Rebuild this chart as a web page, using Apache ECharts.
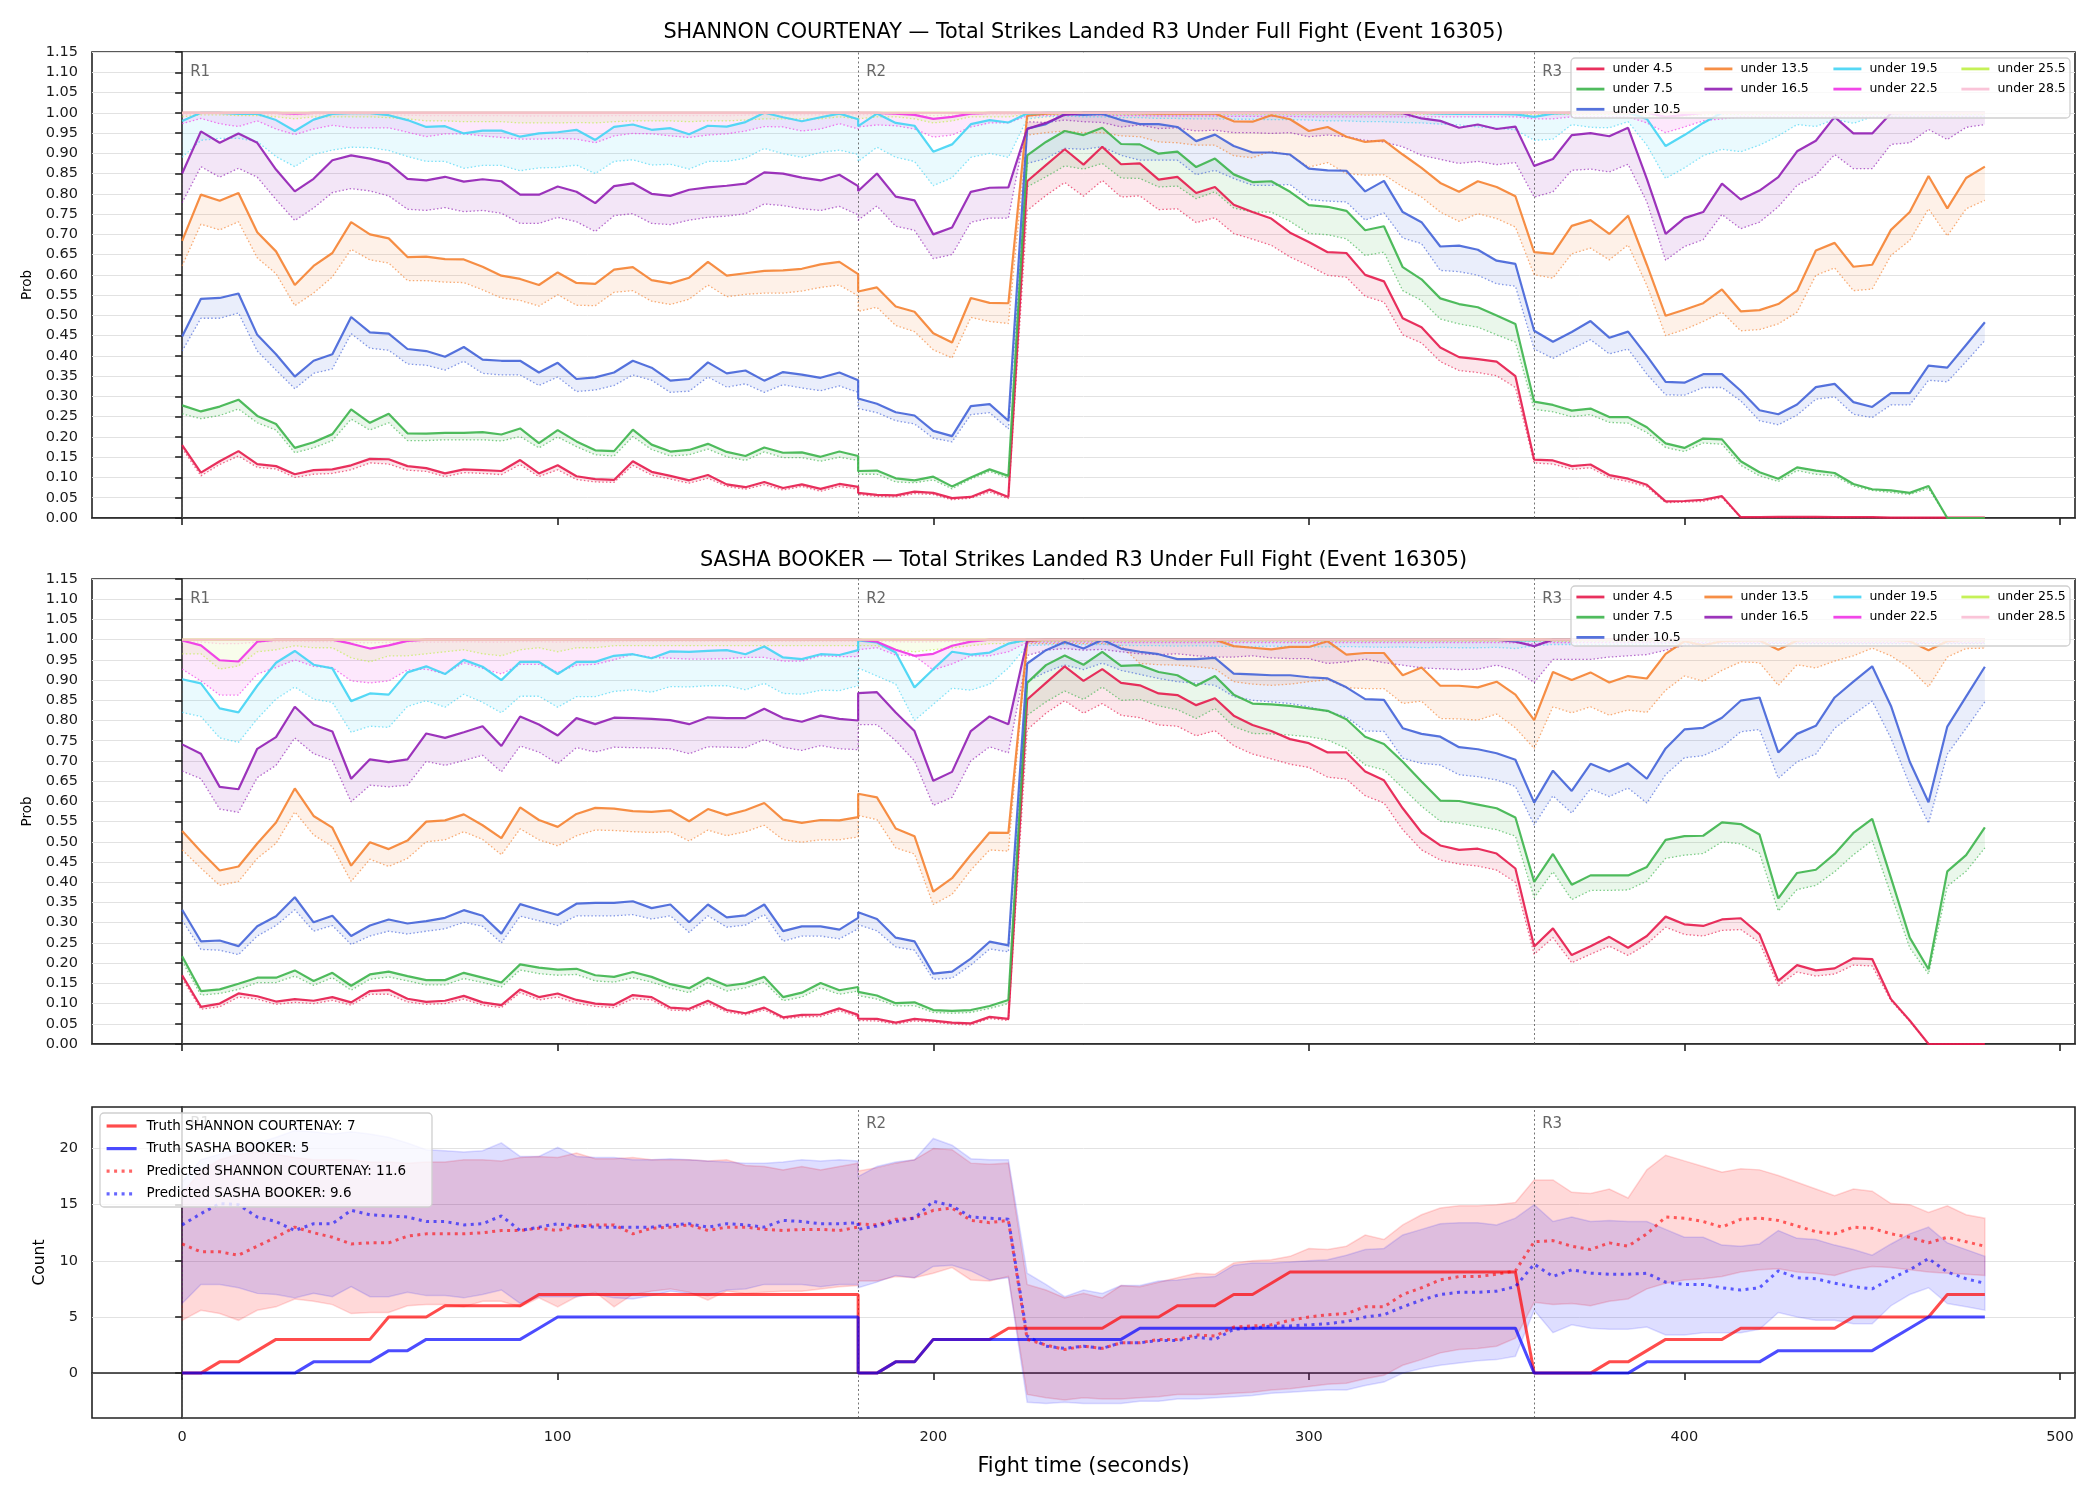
<!DOCTYPE html>
<html lang="en">
<head>
<meta charset="UTF-8">
<title>Total Strikes Landed R3 Under Full Fight</title>
<style>
  * { margin: 0; padding: 0; }
  body { background: #fff; }
</style>
</head>
<body>
<div id="main" style="width:2100px;height:1500px;"></div>
<script src="https://cdn.jsdelivr.net/npm/echarts@6/dist/echarts.min.js"></script>
<script>
// fight time (s): round 1, round 2, round 3 samples
var t = [0,5,10,15,20,25,30,35,40,45,50,55,60,65,70,75,80,85,90,95,100,105,110,115,120,125,130,135,140,145,150,155,160,165,170,175,180,
  180,185,190,195,200,205,210,215,220,225,230,235,240,245,250,255,260,265,270,275,280,285,290,295,300,305,310,315,320,325,330,335,340,345,350,355,
  360,365,370,375,380,385,390,395,400,405,410,415,420,425,430,435,440,445,450,455,460,465,470,475,480];

var thresholds = ['under 4.5','under 7.5','under 10.5','under 13.5','under 16.5','under 19.5','under 22.5','under 25.5','under 28.5'];
var colors = ['#e6194b','#3cb44b','#4363d8','#f58231','#911eb4','#42d4f4','#f032e6','#bfef45','#fabed4'];
var xTicks = [0,100,200,300,400,500];
var countTicks = [0,5,10,15,20];
var rounds = ['R1','R2','R3'];
var roundStarts = [0,180,360];

// ---- SHANNON COURTENAY (solid = prob, dotted = lower) ----
var s1_45 = [0.18,0.112,0.14,0.165,0.133,0.128,0.108,0.118,0.12,0.13,0.146,0.145,0.128,0.123,0.11,0.12,0.118,0.116,0.143,0.11,0.13,0.103,0.096,0.094,0.14,0.114,0.104,0.093,0.106,0.083,0.076,0.089,0.074,0.083,0.072,0.084,0.077,
  0.062,0.057,0.056,0.065,0.062,0.049,0.052,0.07,0.052,0.831,0.871,0.91,0.872,0.916,0.873,0.875,0.835,0.842,0.802,0.817,0.773,0.755,0.739,0.704,0.681,0.656,0.654,0.6,0.584,0.493,0.471,0.421,0.397,0.392,0.386,0.35,
  0.144,0.142,0.128,0.132,0.106,0.097,0.082,0.041,0.042,0.045,0.054,0.002,0.002,0.003,0.003,0.003,0.002,0.002,0.002,0.001,0.001,0.001,0.001,0.001,0.001];
var s1_45d = [0.172,0.104,0.132,0.153,0.125,0.121,0.1,0.108,0.11,0.119,0.136,0.133,0.118,0.115,0.102,0.112,0.11,0.107,0.132,0.102,0.119,0.095,0.089,0.088,0.13,0.106,0.096,0.086,0.098,0.078,0.071,0.082,0.069,0.078,0.066,0.078,0.071,
  0.058,0.053,0.052,0.06,0.058,0.045,0.049,0.064,0.048,0.759,0.796,0.828,0.794,0.833,0.792,0.795,0.761,0.763,0.729,0.741,0.702,0.688,0.673,0.644,0.623,0.599,0.594,0.547,0.533,0.452,0.432,0.386,0.364,0.359,0.351,0.322,
  0.136,0.133,0.12,0.124,0.099,0.09,0.077,0.038,0.039,0.041,0.05,0.001,0.001,0.001,0.001,0.001,0.001,0.001,0.001,0,0,0,0,0,0];
var s1_75 = [0.278,0.263,0.275,0.292,0.252,0.232,0.173,0.187,0.207,0.268,0.235,0.257,0.209,0.208,0.21,0.21,0.212,0.206,0.221,0.185,0.217,0.189,0.167,0.165,0.218,0.181,0.164,0.168,0.183,0.163,0.153,0.174,0.161,0.162,0.151,0.164,0.153,
  0.116,0.117,0.098,0.093,0.102,0.078,0.1,0.12,0.104,0.895,0.928,0.955,0.945,0.963,0.923,0.922,0.899,0.904,0.866,0.887,0.848,0.829,0.831,0.805,0.772,0.768,0.758,0.71,0.72,0.619,0.589,0.542,0.528,0.52,0.5,0.479,
  0.287,0.279,0.265,0.27,0.249,0.249,0.224,0.184,0.173,0.196,0.194,0.14,0.113,0.097,0.125,0.117,0.111,0.084,0.071,0.068,0.062,0.079,0,0,0];
var s1_75d = [0.257,0.245,0.253,0.269,0.235,0.217,0.161,0.173,0.191,0.244,0.217,0.235,0.191,0.191,0.193,0.193,0.193,0.19,0.201,0.173,0.2,0.176,0.156,0.153,0.201,0.169,0.153,0.156,0.17,0.151,0.142,0.163,0.149,0.149,0.14,0.15,0.142,
  0.108,0.108,0.089,0.087,0.094,0.072,0.096,0.115,0.098,0.817,0.842,0.869,0.861,0.875,0.839,0.838,0.817,0.819,0.788,0.805,0.765,0.755,0.755,0.732,0.702,0.699,0.689,0.648,0.656,0.561,0.537,0.491,0.479,0.471,0.452,0.434,
  0.268,0.262,0.25,0.255,0.236,0.234,0.211,0.174,0.164,0.185,0.182,0.13,0.104,0.09,0.117,0.108,0.104,0.079,0.068,0.063,0.058,0.073,0,0,0];
var s1_105 = [0.448,0.541,0.543,0.554,0.452,0.404,0.349,0.388,0.404,0.496,0.458,0.455,0.417,0.412,0.398,0.422,0.391,0.388,0.388,0.359,0.383,0.343,0.347,0.359,0.388,0.371,0.339,0.343,0.384,0.357,0.364,0.339,0.36,0.354,0.346,0.359,0.34,
  0.295,0.282,0.261,0.253,0.215,0.202,0.276,0.281,0.24,0.961,0.972,0.997,0.995,0.997,0.982,0.972,0.972,0.965,0.93,0.946,0.918,0.902,0.902,0.897,0.862,0.858,0.857,0.806,0.832,0.755,0.73,0.67,0.672,0.662,0.635,0.627,
  0.462,0.435,0.459,0.486,0.445,0.46,0.4,0.336,0.334,0.355,0.355,0.314,0.266,0.256,0.28,0.323,0.331,0.286,0.274,0.308,0.308,0.376,0.371,0.427,0.483];
var s1_105d = [0.412,0.493,0.493,0.506,0.412,0.365,0.319,0.357,0.368,0.455,0.419,0.414,0.38,0.377,0.365,0.387,0.357,0.353,0.353,0.327,0.348,0.312,0.316,0.327,0.353,0.34,0.31,0.313,0.348,0.323,0.331,0.31,0.329,0.321,0.314,0.326,0.31,
  0.27,0.26,0.24,0.232,0.197,0.188,0.255,0.26,0.22,0.875,0.887,0.912,0.91,0.916,0.895,0.883,0.883,0.883,0.847,0.858,0.838,0.821,0.821,0.823,0.786,0.782,0.78,0.735,0.753,0.691,0.677,0.611,0.608,0.599,0.578,0.572,
  0.417,0.394,0.417,0.44,0.405,0.417,0.355,0.304,0.303,0.322,0.322,0.289,0.24,0.23,0.254,0.293,0.299,0.256,0.248,0.279,0.279,0.34,0.336,0.386,0.438];
var s1_135 = [0.684,0.798,0.783,0.802,0.705,0.658,0.575,0.622,0.654,0.73,0.7,0.69,0.644,0.645,0.639,0.638,0.62,0.598,0.59,0.575,0.606,0.58,0.578,0.613,0.619,0.587,0.579,0.593,0.632,0.598,0.604,0.61,0.611,0.615,0.626,0.632,0.602,
  0.559,0.569,0.522,0.509,0.456,0.433,0.543,0.531,0.53,0.993,0.998,1,1,1,1,0.999,0.998,0.998,0.998,0.998,0.979,0.978,0.994,0.984,0.955,0.965,0.941,0.928,0.932,0.897,0.864,0.827,0.805,0.831,0.817,0.794,
  0.656,0.652,0.721,0.735,0.701,0.746,0.625,0.499,0.514,0.53,0.564,0.51,0.513,0.528,0.561,0.66,0.679,0.62,0.625,0.711,0.755,0.844,0.764,0.839,0.867];
var s1_135d = [0.622,0.725,0.711,0.731,0.642,0.603,0.524,0.555,0.595,0.663,0.637,0.629,0.586,0.586,0.582,0.581,0.563,0.543,0.537,0.523,0.551,0.525,0.524,0.557,0.561,0.535,0.527,0.54,0.575,0.546,0.552,0.555,0.555,0.56,0.569,0.575,0.548,
  0.51,0.52,0.475,0.46,0.415,0.395,0.495,0.485,0.48,0.945,0.951,0.955,0.951,0.951,0.943,0.941,0.928,0.926,0.92,0.92,0.894,0.889,0.905,0.895,0.866,0.877,0.85,0.846,0.847,0.817,0.792,0.755,0.732,0.751,0.739,0.718,
  0.6,0.592,0.652,0.666,0.637,0.674,0.574,0.45,0.465,0.485,0.508,0.462,0.465,0.479,0.508,0.599,0.617,0.561,0.565,0.648,0.685,0.763,0.696,0.763,0.784];
var s1_165 = [0.85,0.954,0.926,0.949,0.926,0.86,0.806,0.837,0.883,0.895,0.887,0.875,0.837,0.833,0.842,0.83,0.836,0.831,0.798,0.798,0.818,0.805,0.777,0.819,0.826,0.8,0.795,0.81,0.816,0.82,0.825,0.853,0.85,0.84,0.833,0.847,0.819,
  0.807,0.85,0.793,0.784,0.7,0.717,0.805,0.815,0.816,0.96,0.975,0.995,1,1,1,1,1,1,1,1,1,1,1,1,1,1,1,1,1,0.999,0.986,0.98,0.963,0.971,0.96,0.966,
  0.869,0.886,0.945,0.95,0.942,0.963,0.837,0.701,0.74,0.755,0.825,0.786,0.808,0.841,0.905,0.931,0.99,0.949,0.949,0.999,1,1,1,1,1];
var s1_165d = [0.778,0.867,0.841,0.863,0.841,0.786,0.734,0.765,0.803,0.813,0.807,0.795,0.762,0.759,0.766,0.756,0.759,0.752,0.727,0.727,0.742,0.731,0.707,0.746,0.751,0.727,0.724,0.735,0.742,0.745,0.751,0.775,0.771,0.763,0.759,0.769,0.748,
  0.735,0.77,0.72,0.71,0.64,0.65,0.73,0.74,0.74,0.978,0.976,0.982,0.978,0.976,0.965,0.97,0.961,0.963,0.955,0.957,0.951,0.951,0.949,0.951,0.941,0.945,0.941,0.932,0.928,0.916,0.895,0.885,0.875,0.88,0.872,0.877,
  0.792,0.805,0.858,0.861,0.854,0.873,0.78,0.636,0.67,0.687,0.749,0.714,0.73,0.768,0.821,0.846,0.897,0.862,0.862,0.922,0.926,0.959,0.934,0.964,0.971];
var s1_195 = [0.98,1,1,0.997,0.997,0.982,0.955,0.983,0.997,0.999,0.999,0.994,0.982,0.965,0.967,0.949,0.956,0.956,0.941,0.949,0.952,0.958,0.933,0.965,0.971,0.958,0.962,0.947,0.968,0.966,0.977,1,0.989,0.979,0.989,0.998,0.984,
  0.967,0.998,0.975,0.968,0.904,0.922,0.972,0.982,0.976,0.998,1,1,1,1,1,1,1,1,1,1,1,1,1,1,1,1,1,1,1,1,1,0.998,0.997,0.998,0.997,0.996,
  0.99,0.998,1,1,1,1,0.985,0.918,0.945,0.975,1,1,1,1,1,1,1,1,1,1,1,1,1,1,1];
var s1_195d = [0.89,0.932,0.937,0.937,0.929,0.892,0.867,0.897,0.908,0.915,0.914,0.907,0.892,0.88,0.88,0.863,0.87,0.87,0.857,0.864,0.865,0.871,0.85,0.88,0.884,0.871,0.873,0.861,0.88,0.88,0.888,0.912,0.899,0.89,0.902,0.908,0.897,
  0.88,0.915,0.89,0.88,0.82,0.84,0.89,0.9,0.89,0.985,0.99,0.992,0.99,0.99,0.988,0.988,0.986,0.986,0.985,0.985,0.984,0.984,0.983,0.983,0.982,0.98,0.98,0.978,0.978,0.976,0.975,0.972,0.97,0.965,0.962,0.958,
  0.932,0.935,0.971,0.964,0.963,0.978,0.92,0.838,0.864,0.894,0.91,0.904,0.92,0.943,0.971,0.966,0.984,0.974,0.99,0.99,0.99,0.99,0.99,0.99,0.99];
var s1_225 = [1,1,1,1,1,1,0.998,1,1,1,1,1,1,1,1,1,1,1,1,1,1,1,1,1,1,1,1,1,1,1,1,1,1,1,1,1,1,
  1,1,0.998,0.995,0.985,0.99,0.998,1,1,1,1,1,1,1,1,1,1,1,1,1,1,1,1,1,1,1,1,1,1,1,1,1,1,1,1,1,
  1,1,1,1,1,1,1,0.99,0.995,1,1,1,1,1,1,1,1,1,1,1,1,1,1,1,1];
var s1_225d = [0.973,0.986,0.973,0.966,0.98,0.96,0.946,0.96,0.969,0.963,0.963,0.963,0.952,0.941,0.948,0.948,0.943,0.939,0.935,0.935,0.937,0.935,0.926,0.943,0.949,0.948,0.943,0.939,0.945,0.948,0.955,0.966,0.965,0.955,0.96,0.973,0.96,
  0.965,0.97,0.968,0.96,0.94,0.945,0.965,0.975,0.975,0.992,0.993,0.994,0.994,0.994,0.993,0.993,0.992,0.992,0.992,0.992,0.991,0.991,0.991,0.991,0.99,0.99,0.99,0.99,0.99,0.99,0.99,0.99,0.99,0.99,0.99,0.99,
  0.985,0.985,0.99,0.99,0.99,0.99,0.975,0.951,0.965,0.98,0.985,0.99,0.99,0.99,0.99,0.99,0.99,0.99,0.99,0.99,0.99,0.99,0.99,0.99,0.99];
var s1_255 = [1,1,1,1,1,1,1,1,1,1,1,1,1,1,1,1,1,1,1,1,1,1,1,1,1,1,1,1,1,1,1,1,1,1,1,1,1,
  1,1,1,1,1,1,1,1,1,1,1,1,1,1,1,1,1,1,1,1,1,1,1,1,1,1,1,1,1,1,1,1,1,1,1,1,
  1,1,1,1,1,1,1,1,1,1,1,1,1,1,1,1,1,1,1,1,1,1,1,1,1];
var s1_255d = [0.99,0.995,0.995,0.993,0.993,0.99,0.985,0.99,0.99,0.99,0.99,0.988,0.985,0.98,0.98,0.978,0.978,0.978,0.975,0.975,0.975,0.976,0.975,0.978,0.98,0.98,0.98,0.978,0.98,0.98,0.982,0.985,0.985,0.985,0.985,0.99,0.985,
  0.985,0.99,0.99,0.985,0.975,0.98,0.99,0.99,0.99,0.996,0.996,0.996,0.996,0.996,0.996,0.996,0.996,0.996,0.996,0.996,0.996,0.996,0.996,0.996,0.996,0.996,0.996,0.996,0.996,0.996,0.996,0.996,0.996,0.996,0.996,0.996,
  0.996,0.996,0.996,0.996,0.996,0.996,0.993,0.99,0.992,0.995,0.996,0.996,0.996,0.996,0.996,0.996,0.996,0.996,0.996,0.996,0.996,0.996,0.996,0.996,0.996];
var s1_285 = [1,1,1,1,1,1,1,1,1,1,1,1,1,1,1,1,1,1,1,1,1,1,1,1,1,1,1,1,1,1,1,1,1,1,1,1,1,
  1,1,1,1,1,1,1,1,1,1,1,1,1,1,1,1,1,1,1,1,1,1,1,1,1,1,1,1,1,1,1,1,1,1,1,1,
  1,1,1,1,1,1,1,1,1,1,1,1,1,1,1,1,1,1,1,1,1,1,1,1,1];
var s1_285d = [0.995,0.997,0.997,0.996,0.996,0.995,0.994,0.995,0.995,0.995,0.995,0.994,0.994,0.993,0.993,0.993,0.993,0.993,0.992,0.992,0.992,0.992,0.992,0.993,0.993,0.993,0.993,0.993,0.993,0.993,0.994,0.995,0.995,0.995,0.995,0.996,0.995,
  0.995,0.996,0.996,0.995,0.993,0.994,0.996,0.996,0.996,0.998,0.998,0.998,0.998,0.998,0.998,0.998,0.998,0.998,0.998,0.998,0.998,0.998,0.998,0.998,0.998,0.998,0.998,0.998,0.998,0.998,0.998,0.998,0.998,0.998,0.998,0.998,
  0.998,0.998,0.998,0.998,0.998,0.998,0.997,0.996,0.997,0.998,0.998,0.998,0.998,0.998,0.998,0.998,0.998,0.998,0.998,0.998,0.998,0.998,0.998,0.998,0.998];

// ---- SASHA BOOKER ----
var s2_45 = [0.17,0.092,0.1,0.125,0.118,0.105,0.111,0.107,0.116,0.103,0.131,0.134,0.112,0.104,0.107,0.119,0.103,0.096,0.135,0.116,0.125,0.109,0.1,0.097,0.121,0.116,0.09,0.087,0.107,0.084,0.076,0.09,0.066,0.072,0.073,0.088,0.072,
  0.063,0.062,0.053,0.062,0.058,0.053,0.051,0.067,0.062,0.852,0.893,0.934,0.898,0.927,0.893,0.887,0.867,0.863,0.838,0.855,0.812,0.789,0.774,0.754,0.744,0.721,0.721,0.674,0.652,0.583,0.523,0.491,0.48,0.483,0.471,0.434,
  0.241,0.286,0.22,0.242,0.265,0.238,0.267,0.315,0.296,0.292,0.308,0.311,0.271,0.156,0.195,0.182,0.187,0.212,0.21,0.111,0.058,0,0,0,0];
var s2_45d = [0.162,0.086,0.092,0.116,0.111,0.098,0.103,0.1,0.108,0.096,0.123,0.123,0.104,0.098,0.1,0.111,0.096,0.09,0.127,0.109,0.116,0.101,0.093,0.09,0.112,0.109,0.084,0.082,0.1,0.079,0.072,0.084,0.062,0.067,0.068,0.082,0.067,
  0.058,0.057,0.049,0.057,0.054,0.049,0.047,0.063,0.058,0.777,0.818,0.849,0.818,0.842,0.813,0.807,0.789,0.786,0.762,0.775,0.738,0.717,0.705,0.692,0.684,0.66,0.655,0.614,0.596,0.53,0.48,0.455,0.445,0.44,0.43,0.4,
  0.222,0.263,0.201,0.222,0.242,0.219,0.247,0.289,0.271,0.267,0.281,0.283,0.251,0.144,0.178,0.168,0.173,0.195,0.193,0.107,0.056,0,0,0,0];
var s2_75 = [0.217,0.131,0.135,0.149,0.164,0.164,0.182,0.156,0.176,0.144,0.172,0.179,0.168,0.158,0.158,0.176,0.164,0.152,0.197,0.189,0.184,0.186,0.17,0.166,0.178,0.166,0.148,0.138,0.164,0.144,0.15,0.166,0.116,0.127,0.151,0.133,0.141,
  0.129,0.12,0.101,0.103,0.084,0.082,0.084,0.094,0.109,0.893,0.937,0.961,0.938,0.97,0.935,0.937,0.92,0.912,0.886,0.91,0.864,0.842,0.84,0.836,0.83,0.824,0.803,0.76,0.742,0.698,0.649,0.602,0.601,0.592,0.583,0.56,
  0.401,0.47,0.394,0.417,0.417,0.417,0.438,0.505,0.514,0.515,0.548,0.544,0.518,0.36,0.423,0.431,0.47,0.522,0.557,0.411,0.263,0.185,0.427,0.467,0.536];
var s2_75d = [0.205,0.121,0.125,0.135,0.152,0.152,0.168,0.145,0.164,0.133,0.16,0.166,0.156,0.146,0.146,0.162,0.152,0.141,0.183,0.174,0.17,0.172,0.156,0.153,0.164,0.153,0.138,0.127,0.152,0.131,0.139,0.153,0.107,0.116,0.139,0.123,0.131,
  0.12,0.111,0.094,0.095,0.078,0.076,0.078,0.088,0.1,0.813,0.846,0.873,0.852,0.883,0.85,0.852,0.836,0.827,0.805,0.83,0.785,0.768,0.767,0.764,0.76,0.752,0.731,0.69,0.678,0.633,0.588,0.551,0.546,0.538,0.53,0.514,
  0.362,0.426,0.357,0.38,0.38,0.381,0.403,0.459,0.467,0.471,0.5,0.495,0.472,0.329,0.382,0.392,0.426,0.468,0.503,0.37,0.238,0.173,0.39,0.427,0.485];
var s2_105 = [0.332,0.254,0.256,0.242,0.291,0.316,0.363,0.301,0.317,0.267,0.293,0.308,0.298,0.304,0.312,0.331,0.317,0.273,0.346,0.332,0.319,0.347,0.349,0.349,0.353,0.336,0.345,0.301,0.345,0.313,0.318,0.345,0.279,0.291,0.291,0.283,0.312,
  0.326,0.309,0.263,0.254,0.174,0.179,0.211,0.253,0.244,0.941,0.974,0.994,0.978,1,0.978,0.97,0.964,0.952,0.952,0.955,0.916,0.914,0.912,0.912,0.907,0.904,0.882,0.853,0.851,0.781,0.767,0.76,0.734,0.729,0.719,0.703,
  0.597,0.676,0.626,0.693,0.674,0.694,0.656,0.731,0.778,0.782,0.807,0.849,0.857,0.721,0.767,0.787,0.857,0.896,0.934,0.836,0.698,0.598,0.785,0.859,0.933];
var s2_105d = [0.306,0.234,0.232,0.221,0.267,0.293,0.332,0.279,0.293,0.246,0.267,0.279,0.272,0.279,0.285,0.301,0.291,0.25,0.316,0.305,0.293,0.317,0.317,0.317,0.32,0.309,0.317,0.276,0.317,0.289,0.294,0.32,0.254,0.267,0.267,0.26,0.285,
  0.295,0.28,0.24,0.232,0.16,0.163,0.195,0.235,0.228,0.896,0.92,0.937,0.926,0.942,0.924,0.914,0.904,0.896,0.892,0.887,0.859,0.85,0.846,0.842,0.834,0.822,0.809,0.774,0.773,0.707,0.694,0.69,0.666,0.661,0.653,0.637,
  0.542,0.614,0.571,0.631,0.612,0.633,0.596,0.666,0.708,0.713,0.734,0.772,0.778,0.657,0.698,0.717,0.781,0.815,0.848,0.756,0.641,0.546,0.717,0.781,0.846];
var s2_135 = [0.527,0.476,0.429,0.439,0.496,0.548,0.632,0.564,0.535,0.441,0.499,0.482,0.503,0.55,0.553,0.568,0.541,0.509,0.585,0.554,0.537,0.569,0.584,0.582,0.576,0.574,0.578,0.551,0.581,0.566,0.578,0.596,0.555,0.547,0.554,0.553,0.561,
  0.619,0.61,0.533,0.514,0.377,0.41,0.468,0.523,0.522,0.996,1,1,1,1,1,1,1,1,1,1,0.984,0.98,0.976,0.982,0.982,0.996,0.963,0.967,0.967,0.912,0.931,0.886,0.886,0.882,0.896,0.864,
  0.801,0.92,0.9,0.919,0.894,0.91,0.904,0.965,0.996,0.986,0.996,0.998,0.998,0.975,0.998,1,1,1,1,1,0.996,0.974,0.996,1,1];
var s2_135d = [0.48,0.435,0.392,0.402,0.459,0.496,0.574,0.517,0.488,0.402,0.457,0.439,0.459,0.5,0.505,0.525,0.506,0.468,0.532,0.505,0.49,0.515,0.529,0.528,0.525,0.523,0.525,0.502,0.529,0.515,0.525,0.541,0.505,0.499,0.505,0.505,0.512,
  0.565,0.555,0.485,0.47,0.345,0.37,0.43,0.48,0.477,0.99,0.99,0.99,0.99,0.99,0.985,0.941,0.938,0.937,0.933,0.928,0.896,0.89,0.887,0.89,0.896,0.901,0.881,0.879,0.879,0.842,0.848,0.805,0.804,0.801,0.816,0.782,
  0.731,0.834,0.819,0.834,0.813,0.826,0.82,0.875,0.91,0.897,0.924,0.945,0.943,0.887,0.938,0.93,0.947,0.96,0.979,0.96,0.929,0.883,0.957,0.978,0.979];
var s2_165 = [0.741,0.718,0.636,0.63,0.73,0.759,0.834,0.79,0.773,0.656,0.704,0.697,0.704,0.768,0.757,0.771,0.786,0.737,0.81,0.79,0.763,0.806,0.791,0.807,0.806,0.804,0.801,0.791,0.808,0.806,0.806,0.829,0.806,0.797,0.812,0.804,0.8,
  0.868,0.87,0.82,0.774,0.651,0.673,0.774,0.81,0.791,0.998,1,1,1,1,1,1,1,1,1,1,1,1,1,1,1,1,1,1,1,1,1,1,1,1,1,0.995,
  0.984,1,1,1,1,1,1,1,1,1,1,1,1,1,1,1,1,1,1,1,1,1,1,1,1];
var s2_165d = [0.675,0.656,0.581,0.573,0.659,0.689,0.757,0.718,0.701,0.599,0.64,0.636,0.64,0.699,0.689,0.701,0.714,0.673,0.737,0.722,0.693,0.733,0.722,0.734,0.733,0.732,0.73,0.718,0.735,0.734,0.733,0.753,0.734,0.726,0.738,0.73,0.728,
  0.79,0.79,0.75,0.7,0.59,0.61,0.7,0.735,0.72,0.961,0.974,0.978,0.974,0.976,0.97,0.965,0.963,0.965,0.96,0.957,0.957,0.96,0.955,0.953,0.953,0.941,0.945,0.952,0.943,0.937,0.93,0.928,0.926,0.927,0.937,0.924,
  0.894,0.951,0.951,0.951,0.957,0.96,0.963,0.974,0.986,0.99,0.99,0.99,0.99,0.99,0.99,0.99,0.99,0.99,0.99,0.99,0.99,0.99,0.99,0.99,0.99];
var s2_195 = [0.902,0.892,0.83,0.82,0.886,0.943,0.972,0.938,0.929,0.848,0.867,0.864,0.919,0.934,0.915,0.95,0.933,0.9,0.945,0.945,0.915,0.945,0.945,0.96,0.964,0.954,0.971,0.97,0.972,0.974,0.964,0.983,0.956,0.952,0.964,0.962,0.974,
  0.998,0.993,0.968,0.882,0.927,0.97,0.963,0.968,0.99,1,1,1,1,1,1,1,1,1,1,1,1,1,1,1,1,1,1,1,1,1,1,1,1,1,1,0.998,
  0.998,1,1,1,1,1,1,1,1,1,1,1,1,1,1,1,1,1,1,1,1,1,1,1,1];
var s2_195d = [0.82,0.81,0.757,0.746,0.804,0.853,0.883,0.853,0.845,0.771,0.786,0.783,0.835,0.849,0.833,0.865,0.845,0.819,0.86,0.86,0.833,0.859,0.859,0.872,0.876,0.87,0.884,0.883,0.886,0.886,0.876,0.892,0.867,0.865,0.875,0.874,0.886,
  0.93,0.91,0.89,0.8,0.84,0.88,0.875,0.89,0.93,0.985,0.987,0.988,0.987,0.988,0.986,0.985,0.985,0.984,0.985,0.984,0.983,0.983,0.984,0.983,0.982,0.982,0.983,0.982,0.981,0.982,0.98,0.981,0.98,0.98,0.981,0.978,
  0.985,0.988,0.988,0.988,0.988,0.988,0.988,0.99,0.99,0.99,0.99,0.99,0.99,0.99,0.99,0.99,0.99,0.99,0.99,0.99,0.99,0.99,0.99,0.99,0.99];
var s2_225 = [0.998,0.986,0.949,0.946,0.995,1,1,1,1,0.99,0.978,0.986,0.997,1,1,1,1,1,1,1,1,1,1,1,1,1,1,1,1,1,1,1,1,1,1,1,1,
  1,0.995,0.975,0.96,0.965,0.985,0.995,1,1,1,1,1,1,1,1,1,1,1,1,1,1,1,1,1,1,1,1,1,1,1,1,1,1,1,1,1,
  1,1,1,1,1,1,1,1,1,1,1,1,1,1,1,1,1,1,1,1,1,1,1,1,1];
var s2_225d = [0.927,0.898,0.863,0.863,0.915,0.931,0.95,0.934,0.931,0.898,0.893,0.898,0.925,0.927,0.915,0.943,0.929,0.915,0.939,0.939,0.919,0.937,0.939,0.95,0.964,0.956,0.954,0.952,0.952,0.953,0.956,0.956,0.947,0.947,0.96,0.958,0.958,
  0.975,0.98,0.962,0.96,0.925,0.94,0.96,0.96,0.97,0.993,0.994,0.994,0.994,0.994,0.993,0.993,0.993,0.993,0.993,0.993,0.993,0.993,0.993,0.993,0.993,0.993,0.993,0.993,0.993,0.993,0.993,0.993,0.993,0.993,0.993,0.992,
  0.99,0.993,0.993,0.993,0.993,0.993,0.993,0.993,0.993,0.993,0.993,0.993,0.993,0.993,0.993,0.993,0.993,0.993,0.993,0.993,0.993,0.993,0.993,0.993,0.993];
var s2_255 = [1,1,1,1,1,1,1,1,1,1,1,1,1,1,1,1,1,1,1,1,1,1,1,1,1,1,1,1,1,1,1,1,1,1,1,1,1,
  1,1,1,1,1,1,1,1,1,1,1,1,1,1,1,1,1,1,1,1,1,1,1,1,1,1,1,1,1,1,1,1,1,1,1,1,
  1,1,1,1,1,1,1,1,1,1,1,1,1,1,1,1,1,1,1,1,1,1,1,1,1];
var s2_255d = [0.965,0.965,0.927,0.935,0.97,0.975,0.985,0.98,0.98,0.955,0.945,0.96,0.96,0.965,0.97,0.975,0.965,0.96,0.975,0.98,0.97,0.98,0.98,0.985,0.985,0.985,0.985,0.985,0.985,0.985,0.985,0.985,0.985,0.985,0.985,0.985,0.985,
  0.985,0.985,0.975,0.97,0.975,0.98,0.985,0.99,0.99,0.996,0.996,0.996,0.996,0.996,0.996,0.996,0.996,0.996,0.996,0.996,0.996,0.996,0.996,0.996,0.996,0.996,0.996,0.996,0.996,0.996,0.996,0.996,0.996,0.996,0.996,0.996,
  0.996,0.996,0.996,0.996,0.996,0.996,0.996,0.996,0.996,0.996,0.996,0.996,0.996,0.996,0.996,0.996,0.996,0.996,0.996,0.996,0.996,0.996,0.996,0.996,0.996];
var s2_285 = [1,1,1,1,1,1,1,1,1,1,1,1,1,1,1,1,1,1,1,1,1,1,1,1,1,1,1,1,1,1,1,1,1,1,1,1,1,
  1,1,1,1,1,1,1,1,1,1,1,1,1,1,1,1,1,1,1,1,1,1,1,1,1,1,1,1,1,1,1,1,1,1,1,1,
  1,1,1,1,1,1,1,1,1,1,1,1,1,1,1,1,1,1,1,1,1,1,1,1,1];
var s2_285d = [0.994,0.994,0.99,0.99,0.994,0.995,0.996,0.995,0.995,0.993,0.992,0.993,0.994,0.994,0.994,0.995,0.994,0.994,0.995,0.995,0.994,0.995,0.995,0.995,0.996,0.996,0.996,0.996,0.996,0.996,0.996,0.996,0.996,0.996,0.996,0.996,0.996,
  0.996,0.996,0.995,0.994,0.995,0.995,0.996,0.997,0.997,0.998,0.998,0.998,0.998,0.998,0.998,0.998,0.998,0.998,0.998,0.998,0.998,0.998,0.998,0.998,0.998,0.998,0.998,0.998,0.998,0.998,0.998,0.998,0.998,0.998,0.998,0.998,
  0.998,0.998,0.998,0.998,0.998,0.998,0.998,0.998,0.998,0.998,0.998,0.998,0.998,0.998,0.998,0.998,0.998,0.998,0.998,0.998,0.998,0.998,0.998,0.998,0.998];

// ---- counts ----
var truthA = [0,0,1,1,2,3,3,3,3,3,3,5,5,5,6,6,6,6,6,7,7,7,7,7,7,7,7,7,7,7,7,7,7,7,7,7,7,
  0,0,1,1,3,3,3,3,4,4,4,4,4,4,5,5,5,6,6,6,7,7,8,9,9,9,9,9,9,9,9,9,9,9,9,9,
  0,0,0,0,1,1,2,3,3,3,3,4,4,4,4,4,4,5,5,5,5,5,7,7,7];
var truthB = [0,0,0,0,0,0,0,1,1,1,1,2,2,3,3,3,3,3,3,4,5,5,5,5,5,5,5,5,5,5,5,5,5,5,5,5,5,
  0,0,1,1,3,3,3,3,3,3,3,3,3,3,3,4,4,4,4,4,4,4,4,4,4,4,4,4,4,4,4,4,4,4,4,4,
  0,0,0,0,0,0,1,1,1,1,1,1,1,2,2,2,2,2,2,3,4,5,5,5,5];
var predA = [11.5,10.8,10.8,10.5,11.3,12.1,13.0,12.5,12.1,11.5,11.6,11.6,12.2,12.4,12.4,12.4,12.5,12.7,12.7,12.9,12.7,13.1,13.2,13.2,12.4,12.9,13.0,13.2,12.7,13.0,13.0,12.8,12.7,12.8,12.8,12.7,13.0,
  13.3,13.2,13.7,13.8,14.5,14.7,13.6,13.4,13.6,3.0,2.5,2.1,2.4,2.2,2.7,2.7,3.0,3.0,3.4,3.3,4.1,4.2,4.3,4.7,5.0,5.2,5.3,5.9,5.9,7.0,7.6,8.3,8.6,8.6,8.8,9.1,
  11.7,11.8,11.3,11.0,11.6,11.3,12.4,13.9,13.8,13.5,13.0,13.7,13.8,13.6,13.1,12.6,12.4,13.0,12.9,12.4,12.1,11.6,12.1,11.7,11.3];
var predB = [13.2,14.2,15.1,15.0,13.9,13.5,12.7,13.3,13.3,14.5,14.1,14.0,13.9,13.5,13.5,13.2,13.3,14.0,12.7,13.0,13.3,13.1,13.0,13.0,13.0,13.0,13.2,13.3,13.0,13.3,13.2,13.0,13.6,13.5,13.3,13.3,13.4,
  12.8,13.1,13.5,13.8,15.3,14.9,13.9,13.8,13.7,3.3,2.4,2.2,2.4,2.2,2.7,2.7,2.9,2.9,3.2,3.0,3.9,4.0,4.2,4.2,4.3,4.4,4.6,5.0,5.2,5.9,6.5,7.0,7.2,7.2,7.3,7.7,
  9.7,8.6,9.2,8.9,8.8,8.8,8.9,8.1,7.9,7.9,7.6,7.4,7.6,9.1,8.5,8.4,8.0,7.7,7.5,8.4,9.2,10.2,9.0,8.4,8.0];
var hiA = [16.0,18.0,19.0,19.5,19.7,19.5,19.2,19.0,19.0,19.0,18.8,18.8,18.7,18.8,18.8,19.0,19.0,18.9,19.2,19.3,19.2,19.6,19.1,19.1,19.2,19.0,19.0,19.0,18.9,19.0,18.5,18.4,18.1,18.4,18.1,18.4,18.7,
  18.0,18.3,18.7,19.0,20.0,19.9,18.7,18.6,18.7,7.9,7.4,6.7,7.1,6.7,7.8,7.7,8.1,8.5,8.9,8.8,9.8,10.0,10.1,10.4,11.1,11.0,11.3,12.3,11.9,13.2,14.1,14.7,14.9,14.9,15.0,15.2,
  17.2,17.2,16.1,16.0,16.4,15.6,18.1,19.4,18.9,18.4,17.9,18.2,18.1,17.6,17.0,16.4,15.8,16.4,16.2,15.1,15.0,14.3,14.9,14.1,13.8];
var loA = [4.7,5.6,5.3,4.7,5.6,5.9,6.6,6.4,6.1,5.3,5.4,5.4,6.0,6.1,6.1,5.9,6.4,6.4,5.9,6.7,5.9,6.8,7.2,5.9,7.0,7.3,7.5,7.2,6.5,7.3,7.1,7.2,7.3,7.3,7.5,7.7,7.8,
  8.2,8.2,8.6,8.5,8.9,9.4,8.3,8.2,8.6,-1.9,-2.2,-2.4,-2.2,-2.3,-2.3,-2.2,-2.1,-1.9,-1.9,-1.9,-1.8,-1.7,-1.5,-1.4,-1.2,-1.0,-0.9,-0.5,-0.2,0.7,1.2,1.8,2.1,2.2,2.4,3.1,
  6.3,6.1,6.2,6.0,6.4,6.6,7.5,8.0,8.3,8.4,8.6,9.0,9.2,9.3,9.0,8.9,8.7,9.2,9.5,9.4,9.2,9.0,8.9,8.8,8.7];
var hiB = [17.0,19.0,19.5,20.0,20.5,21.0,21.6,21.5,21.3,21.5,21.3,21.0,20.5,19.9,19.8,19.7,19.8,20.5,19.3,19.3,20.1,19.3,19.2,19.2,19.0,19.0,19.1,19.0,18.9,18.8,18.7,18.7,18.8,19.0,18.9,19.0,18.9,
  17.5,18.4,18.8,19.0,20.9,20.3,19.1,19.0,19.0,8.9,7.9,6.8,7.4,7.1,7.8,7.8,8.2,8.3,8.5,8.6,9.6,9.8,9.8,9.9,10.0,10.1,10.5,11.0,11.1,12.3,12.8,13.3,13.4,13.4,13.2,13.8,
  15.0,13.5,13.9,13.5,13.6,13.5,13.5,12.8,12.1,12.1,11.4,11.3,11.5,12.7,12.0,11.9,11.4,11.0,10.5,11.5,12.4,13.0,11.6,11.0,10.4];
var loB = [6.2,7.9,7.9,7.6,7.1,7.0,6.7,7.1,6.8,7.7,6.8,6.8,7.2,6.9,6.9,6.7,7.0,7.4,6.2,6.8,6.8,6.8,7.0,6.7,6.6,6.9,7.3,7.1,6.9,7.4,7.5,7.9,7.9,7.9,7.7,7.9,7.9,
  7.6,8.1,8.7,8.5,9.5,9.6,9.1,8.3,8.5,-2.6,-2.7,-2.6,-2.7,-2.7,-2.7,-2.5,-2.5,-2.3,-2.3,-2.2,-2.1,-2.0,-1.8,-1.7,-1.6,-1.5,-1.5,-1.1,-0.8,0.0,0.4,0.7,0.9,1.1,1.2,1.5,
  5.6,3.6,4.3,4.0,3.9,3.9,4.1,3.4,3.4,3.6,3.6,3.6,3.9,5.4,5.0,4.7,4.7,4.4,4.4,6.0,7.0,7.6,6.2,5.9,5.6];

var panels = [
  { title: 'SHANNON COURTENAY \u2014 Total Strikes Landed R3 Under Full Fight (Event 16305)',
    main: [s1_45, s1_75, s1_105, s1_135, s1_165, s1_195, s1_225, s1_255, s1_285],
    low: [s1_45d, s1_75d, s1_105d, s1_135d, s1_165d, s1_195d, s1_225d, s1_255d, s1_285d] },
  { title: 'SASHA BOOKER \u2014 Total Strikes Landed R3 Under Full Fight (Event 16305)',
    main: [s2_45, s2_75, s2_105, s2_135, s2_165, s2_195, s2_225, s2_255, s2_285],
    low: [s2_45d, s2_75d, s2_105d, s2_135d, s2_165d, s2_195d, s2_225d, s2_255d, s2_285d] }
];

// sanity check on lengths
var allArrays = [truthA, truthB, predA, predB, hiA, loA, hiB, loB];
panels.forEach(function (p) { allArrays = allArrays.concat(p.main, p.low); });
allArrays.forEach(function (a, i) {
  if (a.length !== t.length) throw new Error('array ' + i + ' has length ' + a.length);
});

var FONT = 'DejaVu Sans';

function rgba(hex, a) {
  var n = parseInt(hex.slice(1), 16);
  return 'rgba(' + (n >> 16) + ',' + ((n >> 8) & 255) + ',' + (n & 255) + ',' + a + ')';
}
function pairs(arr) {
  return t.map(function (x, i) { return [x, arr[i]]; });
}
// filled area between two curves, drawn once through the axis scales
function band(gi, lo, hi, fill, stroke) {
  return {
    type: 'custom', xAxisIndex: gi, yAxisIndex: gi, silent: true, z: 1, clip: true,
    data: t.map(function (x, i) { return [x, lo[i], hi[i]]; }),
    encode: { x: 0, y: [1, 2] },
    renderItem: function (params, api) {
      if (params.dataIndex !== 0) return null;
      var pts = [];
      for (var i = 0; i < t.length; i++) pts.push(api.coord([t[i], hi[i]]));
      for (var j = t.length - 1; j >= 0; j--) pts.push(api.coord([t[j], lo[j]]));
      return {
        type: 'polygon', shape: { points: pts },
        style: { fill: fill, stroke: stroke || null, lineWidth: stroke ? 1.5 : 0 }
      };
    }
  };
}
function roundMarks(yLabel) {
  return {
    markLine: {
      silent: true, symbol: ['none', 'none'], animation: false, z: 2,
      label: { show: false },
      lineStyle: { color: '#555', width: 1, type: [2, 2.5], opacity: 0.8 },
      data: roundStarts.map(function (x) { return { xAxis: x }; })
    },
    markPoint: {
      silent: true, symbol: 'circle', symbolSize: 0, animation: false, z: 2,
      label: { show: true, position: 'right', distance: 8, formatter: '{b}', color: '#666', fontSize: 15, fontFamily: FONT },
      data: roundStarts.map(function (x, i) { return { name: rounds[i], coord: [x, yLabel] }; })
    }
  };
}

var series = [];
panels.forEach(function (p, gi) {
  thresholds.forEach(function (name, k) {
    series.push(band(gi, p.low[k], p.main[k], rgba(colors[k], 0.11), null));
  });
  thresholds.forEach(function (name, k) {
    var s = {
      type: 'line', name: name, xAxisIndex: gi, yAxisIndex: gi, symbol: 'none', z: 3,
      data: pairs(p.main[k]),
      itemStyle: { color: colors[k] },
      lineStyle: { color: colors[k], width: 2.2, opacity: 0.9 }
    };
    if (k === 0) Object.assign(s, roundMarks(1.1));
    series.push(s);
    series.push({
      type: 'line', name: name + ' (low)', xAxisIndex: gi, yAxisIndex: gi, symbol: 'none', z: 2,
      data: pairs(p.low[k]),
      itemStyle: { color: colors[k] },
      lineStyle: { color: colors[k], width: 1.3, type: [1.5, 2.2], opacity: 0.65 }
    });
  });
});

series.push(band(2, loA, hiA, 'rgba(255,0,0,0.15)', 'rgba(255,0,0,0.15)'));
series.push(band(2, loB, hiB, 'rgba(0,0,255,0.13)', 'rgba(0,0,255,0.13)'));
series.push(Object.assign({
  type: 'line', name: 'Truth SHANNON COURTENAY: 7', xAxisIndex: 2, yAxisIndex: 2, symbol: 'none', z: 3,
  data: pairs(truthA), itemStyle: { color: '#ff0000' },
  lineStyle: { color: '#ff0000', width: 3, opacity: 0.7 }
}, roundMarks(22.2)));
series.push({
  type: 'line', name: 'Truth SASHA BOOKER: 5', xAxisIndex: 2, yAxisIndex: 2, symbol: 'none', z: 3,
  data: pairs(truthB), itemStyle: { color: '#0000ff' },
  lineStyle: { color: '#0000ff', width: 3, opacity: 0.7 }
});
series.push({
  type: 'line', name: 'Predicted SHANNON COURTENAY: 11.6', xAxisIndex: 2, yAxisIndex: 2, symbol: 'none', z: 3,
  data: pairs(predA), itemStyle: { color: '#ff0000' },
  lineStyle: { color: '#ff0000', width: 3, type: [3, 4.5], opacity: 0.6 }
});
series.push({
  type: 'line', name: 'Predicted SASHA BOOKER: 9.6', xAxisIndex: 2, yAxisIndex: 2, symbol: 'none', z: 3,
  data: pairs(predB), itemStyle: { color: '#0000ff' },
  lineStyle: { color: '#0000ff', width: 3, type: [3, 4.5], opacity: 0.6 }
});

var gridTops = [52, 579, 1107];
var gridHeights = [466, 465, 311];
var grid = gridTops.map(function (top, i) {
  return { left: 92, right: 25, top: top, height: gridHeights[i], show: true,
    borderColor: '#222', borderWidth: 1.6, backgroundColor: 'transparent' };
});

var tickStyle = { color: '#222', width: 1.6 };
var xAxis = [0, 1, 2].map(function (gi) {
  return {
    type: 'value', gridIndex: gi, min: -24, max: 504,
    splitLine: { show: false },
    axisLine: { show: true, lineStyle: tickStyle },
    axisTick: { show: true, length: 7, lineStyle: tickStyle, customValues: xTicks },
    axisLabel: { show: gi === 2, customValues: xTicks, fontSize: 14.5, fontFamily: FONT, color: '#1a1a1a', margin: 12 },
    name: gi === 2 ? 'Fight time (seconds)' : '',
    nameLocation: 'middle', nameGap: 38,
    nameTextStyle: { fontSize: 20.8, fontFamily: FONT, color: '#000' }
  };
});
var yAxis = [0, 1].map(function (gi) {
  return {
    type: 'value', gridIndex: gi, min: 0, max: 1.15, interval: 0.05,
    axisLine: { show: true, lineStyle: tickStyle },
    axisTick: { show: true, length: 7, lineStyle: tickStyle },
    axisLabel: { fontSize: 14.5, fontFamily: FONT, color: '#1a1a1a', margin: 14,
      formatter: function (v) { return v.toFixed(2); } },
    splitLine: { show: true, lineStyle: { color: '#e2e2e2', width: 1 } },
    name: 'Prob', nameLocation: 'middle', nameGap: 56,
    nameTextStyle: { fontSize: 13.5, fontFamily: FONT, color: '#000' }
  };
});
yAxis.push({
  type: 'value', gridIndex: 2, min: -4, max: 23.7, splitNumber: 5,
  axisLine: { show: true, lineStyle: tickStyle },
  axisTick: { show: true, length: 7, lineStyle: tickStyle, customValues: countTicks },
  axisLabel: { customValues: countTicks, fontSize: 14.5, fontFamily: FONT, color: '#1a1a1a', margin: 14 },
  splitLine: { show: true, lineStyle: { color: '#e2e2e2', width: 1 } },
  name: 'Count', nameLocation: 'middle', nameGap: 44,
  nameTextStyle: { fontSize: 15.5, fontFamily: FONT, color: '#000' }
});

// legends: 4 columns per probability panel, filled column by column
var legendCols = [[0, 1, 2], [3, 4], [5, 6], [7, 8]];
var legendLefts = [1575, 1703, 1832, 1960];
var legend = [];
[62.4, 590.5].forEach(function (top) {
  legendCols.forEach(function (c, ci) {
    legend.push({
      orient: 'vertical', left: legendLefts[ci], top: top, padding: 0,
      itemGap: 7.2, itemWidth: 28, itemHeight: 12, z: 6,
      itemStyle: { opacity: 0 },
      lineStyle: { width: 2.8 },
      data: c.map(function (k) { return thresholds[k]; }),
      textStyle: { fontSize: 12.5, fontFamily: FONT, color: '#000', padding: [0, 0, 0, 3] }
    });
  });
});
legend.push({
  orient: 'vertical', left: 105, top: 1119, padding: 0,
  itemGap: 8.6, itemWidth: 30, itemHeight: 14, z: 6,
  itemStyle: { opacity: 0 },
  lineStyle: { width: 3.2 },
  data: ['Truth SHANNON COURTENAY: 7', 'Truth SASHA BOOKER: 5', 'Predicted SHANNON COURTENAY: 11.6', 'Predicted SASHA BOOKER: 9.6'],
  textStyle: { fontSize: 13.5, fontFamily: FONT, color: '#000', padding: [0, 0, 0, 5] }
});

function frame(x, y, w, h) {
  return { type: 'rect', z: 5, silent: true,
    shape: { x: x, y: y, width: w, height: h, r: 4 },
    style: { fill: 'rgba(255,255,255,0.8)', stroke: '#cfcfcf', lineWidth: 1.3 } };
}
function titleText(text, y) {
  return { type: 'text', x: 1083.5, y: y, z: 6, silent: true,
    style: { text: text, fontSize: 20.8, fontFamily: FONT, fill: '#000', align: 'center', verticalAlign: 'middle' } };
}

var option = {
  animation: false,
  backgroundColor: '#fff',
  textStyle: { fontFamily: FONT },
  grid: grid,
  xAxis: xAxis,
  yAxis: yAxis,
  legend: legend,
  graphic: [
    titleText(panels[0].title, 33),
    titleText(panels[1].title, 561),
    frame(1571, 58, 499, 60),
    frame(1571, 586, 499, 60),
    frame(100, 1113, 332, 94)
  ],
  series: series
};

var myChart = echarts.init(document.getElementById('main'));
myChart.setOption(option);
</script>
</body>
</html>
